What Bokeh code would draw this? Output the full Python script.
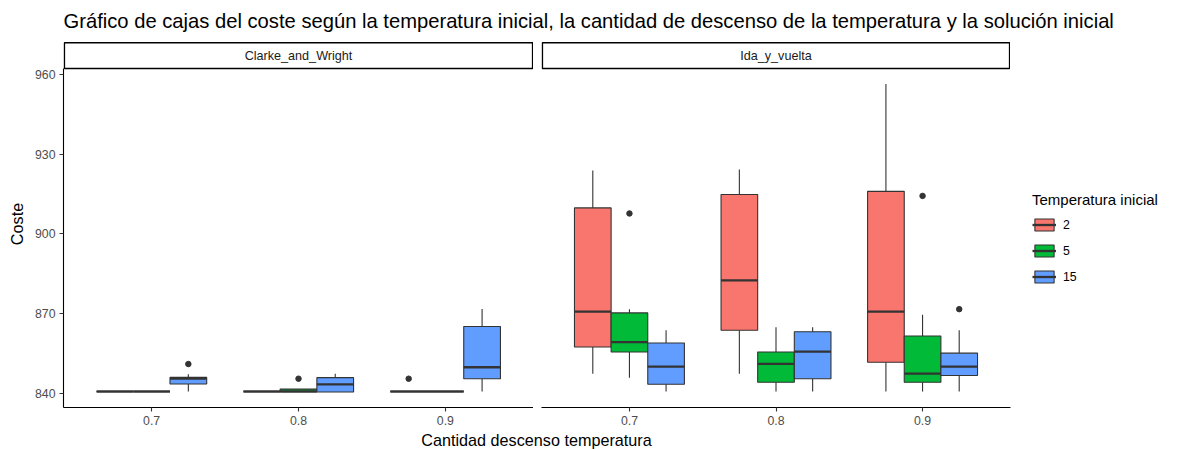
from bokeh.plotting import figure
from bokeh.layouts import column, row
from bokeh.models import (Range1d, FixedTicker, Label, Legend, LegendItem,
                          ColumnDataSource)
from bokeh.embed import file_html
from bokeh.resources import INLINE

# ---------------------------------------------------------------- data
titulo = ("Gráfico de cajas del coste según la temperatura inicial, "
          "la cantidad de descenso de la temperatura y la solución inicial")
soluciones = ["Clarke_and_Wright", "Ida_y_vuelta"]
descensos = ["0.7", "0.8", "0.9"]
temperaturas = ["2", "5", "15"]
colores = ["#F8766D", "#00BA38", "#619CFF"]

grupo_solucion = ["Clarke_and_Wright"] * 9 + ["Ida_y_vuelta"] * 9
grupo_descenso = (["0.7"] * 3 + ["0.8"] * 3 + ["0.9"] * 3) * 2
grupo_temperatura = ["2", "5", "15"] * 6

# five-number summaries of Coste per group
bigote_inf = [840.9, 840.9, 840.9, 840.9, 840.9, 840.7, 840.9, 840.9, 840.9,
              847.6, 846.1, 840.9, 847.6, 840.9, 840.9, 840.9, 840.9, 840.9]
cuartil_1 = [840.9, 840.9, 843.7, 840.9, 840.9, 840.7, 840.9, 840.9, 845.7,
             857.6, 855.7, 843.6, 863.9, 844.4, 845.7, 851.9, 844.4, 846.9]
mediana = [840.9, 840.9, 845.7, 840.9, 840.9, 843.6, 840.9, 840.9, 850.0,
           870.9, 859.4, 850.2, 882.6, 851.3, 855.9, 870.9, 847.6, 850.2]
cuartil_3 = [840.9, 840.9, 846.2, 840.9, 841.8, 846.1, 840.9, 840.9, 865.3,
             909.8, 870.4, 859.1, 914.8, 855.7, 863.3, 916.0, 861.7, 855.3]
bigote_sup = [840.9, 840.9, 847.4, 840.9, 841.8, 847.6, 840.9, 840.9, 871.9,
              923.8, 871.8, 863.9, 924.2, 865.0, 865.0, 956.3, 869.7, 863.9]

atipico_solucion = ["Clarke_and_Wright", "Clarke_and_Wright", "Clarke_and_Wright",
                    "Ida_y_vuelta", "Ida_y_vuelta", "Ida_y_vuelta"]
atipico_descenso = ["0.7", "0.8", "0.9", "0.7", "0.9", "0.9"]
atipico_temperatura = ["15", "5", "2", "5", "5", "15"]
atipico_coste = [851.2, 845.7, 845.7, 907.7, 914.3, 871.8]

# ---------------------------------------------------------------- style
FUENTE = "Liberation Sans"
GRIS20 = "#333333"
ANCHO_CAJA = 0.25
Y_MIN, Y_MAX = 834.9, 962.1      # panel limits
Y_TOPE = 972.6                   # room for the facet strip
X_MIN, X_MAX = 0.4, 3.6
BORDE_INF = 23
ALTO_PANEL = 367 + BORDE_INF
T_EJE = "12.3px"
T_TITULO_EJE = "16.2px"


def posicion(descenso, temperatura):
    return (1 + descensos.index(descenso)
            + (temperaturas.index(temperatura) - 1) * ANCHO_CAJA)


def panel(solucion, width, border_left, con_eje_y):
    p = figure(width=width, height=ALTO_PANEL, output_backend="svg",
               toolbar_location=None,
               x_range=Range1d(X_MIN, X_MAX), y_range=Range1d(Y_MIN, Y_TOPE),
               y_axis_location="left" if con_eje_y else None,
               min_border_left=border_left, min_border_right=0,
               min_border_top=0, min_border_bottom=BORDE_INF)
    p.outline_line_color = None
    p.grid.visible = False
    p.background_fill_color = "white"
    p.border_fill_color = "white"

    # x axis
    ax = p.xaxis[0]
    ax.ticker = FixedTicker(ticks=[1, 2, 3])
    ax.major_label_overrides = {1: "0.7", 2: "0.8", 3: "0.9"}
    ax.bounds = (X_MIN, X_MAX)
    if con_eje_y:
        ay = p.yaxis[0]
        ay.ticker = FixedTicker(ticks=[840, 870, 900, 930, 960])
        ay.bounds = (Y_MIN, Y_MAX)
        ay.axis_label = "Coste"
        ay.axis_label_text_font = FUENTE
        ay.axis_label_text_font_size = T_TITULO_EJE
        ay.axis_label_text_font_style = "normal"
        ay.axis_label_text_color = "black"
        ay.axis_label_standoff = 6
    for a in p.axis:
        a.axis_line_color = "black"
        a.axis_line_width = 1.1
        a.major_tick_line_color = GRIS20
        a.major_tick_line_width = 1.1
        a.major_tick_in = 0
        a.major_tick_out = 4
        a.minor_tick_line_color = None
        a.major_label_text_font = FUENTE
        a.major_label_text_font_size = T_EJE
        a.major_label_text_color = "#4D4D4D"
        a.major_label_standoff = 4

    # facet strip
    p.quad(left=X_MIN + 0.006, right=X_MAX - 0.006, bottom=Y_MAX, top=971.8,
           fill_color="white", line_color="black", line_width=1.5)
    p.add_layout(Label(x=(X_MIN + X_MAX) / 2, y=(Y_MAX + 971.8) / 2,
                       text=solucion, text_align="center",
                       text_baseline="middle", text_font=FUENTE,
                       text_font_size="12.6px", text_color="#1A1A1A"))

    for t, color in zip(temperaturas, colores):
        idx = [i for i in range(len(grupo_solucion))
               if grupo_solucion[i] == solucion and grupo_temperatura[i] == t]
        xs = [posicion(grupo_descenso[i], t) for i in idx]
        src = ColumnDataSource(dict(
            x=xs,
            left=[x - ANCHO_CAJA / 2 for x in xs],
            right=[x + ANCHO_CAJA / 2 for x in xs],
            low=[bigote_inf[i] for i in idx],
            q1=[cuartil_1[i] for i in idx],
            med=[mediana[i] for i in idx],
            q3=[cuartil_3[i] for i in idx],
            high=[bigote_sup[i] for i in idx],
        ))
        p.segment(x0="x", x1="x", y0="q3", y1="high", source=src,
                  line_color=GRIS20, line_width=1.1)
        p.segment(x0="x", x1="x", y0="low", y1="q1", source=src,
                  line_color=GRIS20, line_width=1.1)
        p.vbar(x="x", width=ANCHO_CAJA, bottom="q1", top="q3",
               source=src, fill_color=color, line_color=GRIS20,
               line_width=1.1)
        p.segment(x0="left", x1="right", y0="med", y1="med",
                  source=src, line_color=GRIS20, line_width=2.3)

    jdx = [i for i in range(len(atipico_solucion))
           if atipico_solucion[i] == solucion]
    p.scatter(x=[posicion(atipico_descenso[i], atipico_temperatura[i]) for i in jdx],
              y=[atipico_coste[i] for i in jdx],
              size=5.5, fill_color=GRIS20, line_color=GRIS20)
    return p


p_izq = panel(soluciones[0], 533, 63, True)
p_der = panel(soluciones[1], 477, 8, False)

# legend column: key glyphs styled like the boxes; the proxy glyphs sit
# outside the visible range so that only the legend shows them
p_ley = figure(width=169, height=ALTO_PANEL, output_backend="svg",
               toolbar_location=None, x_axis_type=None, y_axis_type=None,
               x_range=Range1d(0, 1), y_range=Range1d(0, 1), min_border=0)
p_ley.outline_line_color = None
p_ley.grid.visible = False
items = []
for t, color in zip(temperaturas, colores):
    caja = p_ley.vbar(x=[-5], width=0.1, top=[-5], bottom=[-6],
                      fill_color=color, line_color=GRIS20, line_width=1.1)
    med = p_ley.segment(x0=[-6], x1=[-5], y0=[-5], y1=[-5],
                        line_color=GRIS20, line_width=2.3)
    items.append(LegendItem(label=t, renderers=[caja, med]))

leyenda = Legend(
    items=items, title="Temperatura inicial",
    location=(22, 125 - (25 - BORDE_INF)),
    margin=0, padding=5,
    glyph_width=24, glyph_height=15, label_height=15, spacing=11,
    label_standoff=7, title_standoff=9,
    border_line_color=None, background_fill_alpha=0,
    title_text_font=FUENTE, title_text_font_size="15px",
    title_text_font_style="normal", title_text_color="black",
    label_text_font=FUENTE, label_text_font_size=T_EJE,
    label_text_color="black")
p_ley.add_layout(leyenda)


def banda(height, texto, x, y, size, align):
    b = figure(width=1179, height=height, output_backend="svg",
               toolbar_location=None, x_axis_type=None, y_axis_type=None,
               x_range=Range1d(0, 1179), y_range=Range1d(0, height),
               min_border=0)
    b.outline_line_color = None
    b.grid.visible = False
    b.add_layout(Label(x=x, y=y, x_units="screen", y_units="screen",
                       text=texto, text_align=align, text_baseline="middle",
                       text_font=FUENTE, text_font_size=size,
                       text_color="black"))
    return b


cabecera = banda(40, titulo, 63, 20, "20.2px", "left")
pie = banda(449 - 40 - ALTO_PANEL, "Cantidad descenso temperatura", 536, 10,
            T_TITULO_EJE, "center")

layout = column(cabecera, row(p_izq, p_der, p_ley), pie)
open("out.html", "w").write(file_html(layout, INLINE))
